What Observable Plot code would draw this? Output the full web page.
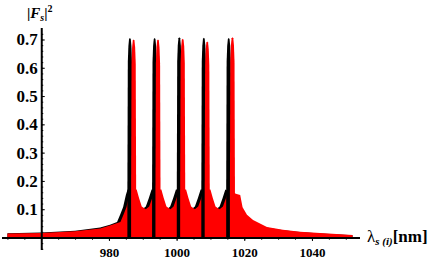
<!DOCTYPE html>
<html><head><meta charset="utf-8">
<script src="https://cdn.jsdelivr.net/npm/d3@7"></script>
<script src="https://cdn.jsdelivr.net/npm/@observablehq/plot@0.6"></script>
<style>body{margin:0;background:#fff} #chart svg{display:block}</style>
</head><body><div id="chart"></div>
<script>
// ---- data ----
const blackPeakCenters = [986.2, 993.5, 1000.8, 1008.05, 1015.4];
const blackPeakHeights = [0.705, 0.705, 0.708, 0.706, 0.705];
const redPeakCenters   = [987.3, 994.5, 1001.8, 1009.05, 1016.5];
const redPeakHeights   = [0.700, 0.700, 0.703, 0.693, 0.708];
const peakOffsets = [-0.75, -0.62, -0.45, -0.25, 0, 0.25, 0.45, 0.62, 0.75];
const peakShape   = [0.22, 0.88, 0.96, 0.995, 1, 0.995, 0.96, 0.88, 0.22];

const blackEnvLambda = [950, 960, 970, 977.4, 980.3, 982.4, 983.3, 984.2, 985.0, 985.5, 987.2, 987.9, 988.7, 989.9, 990.9, 991.8, 992.6, 994.5, 995.2, 996.0, 997.2, 998.1, 999.0, 999.8, 1001.8, 1002.5, 1003.3, 1004.4, 1005.4, 1006.3, 1007.1, 1009.0, 1009.7, 1010.5, 1011.7, 1012.7, 1013.6, 1014.4, 1016.5, 1017.8, 1018.5, 1019.8, 1021.6, 1025.7, 1030.4, 1035.5, 1041.4, 1052];
const blackEnvValue  = [0.015, 0.018, 0.024, 0.035, 0.045, 0.055, 0.08, 0.108, 0.15, 0.17, 0.17, 0.14, 0.11, 0.10, 0.11, 0.14, 0.17, 0.17, 0.14, 0.11, 0.10, 0.11, 0.14, 0.17, 0.17, 0.14, 0.11, 0.10, 0.11, 0.14, 0.17, 0.17, 0.14, 0.11, 0.10, 0.11, 0.14, 0.17, 0.155, 0.15, 0.107, 0.08, 0.062, 0.037, 0.027, 0.02, 0.015, 0.008];

const redEnvLambda = [950, 960, 970, 977.4, 980.3, 983.4, 984.3, 985.2, 986.0, 986.5, 988.2, 988.9, 989.7, 990.9, 991.9, 992.8, 993.6, 995.5, 996.2, 997.0, 998.2, 999.1, 1000.0, 1000.8, 1002.8, 1003.5, 1004.3, 1005.4, 1006.4, 1007.3, 1008.1, 1010.0, 1010.7, 1011.5, 1012.7, 1013.7, 1014.6, 1015.4, 1017.5, 1018.8, 1019.5, 1020.8, 1022.6, 1026.7, 1031.4, 1036.5, 1042.4, 1052];
const redEnvValue  = [0.014, 0.016, 0.022, 0.032, 0.042, 0.055, 0.08, 0.108, 0.15, 0.17, 0.17, 0.14, 0.11, 0.10, 0.11, 0.14, 0.17, 0.17, 0.14, 0.11, 0.10, 0.11, 0.14, 0.17, 0.17, 0.14, 0.11, 0.10, 0.11, 0.14, 0.17, 0.17, 0.14, 0.11, 0.10, 0.11, 0.14, 0.17, 0.155, 0.15, 0.107, 0.08, 0.062, 0.037, 0.027, 0.02, 0.016, 0.009];

const yTicks = [0.1, 0.2, 0.3, 0.4, 0.5, 0.6, 0.7];
const yTickLabels = ["0.1", "0.2", "0.3", "0.4", "0.5", "0.6", "0.7"];
const xTicks = [980, 1000, 1020, 1040];
const xTickLabels = ["980", "1000", "1020", "1040"];

// ---- layout ----
const W = 436, H = 262;
const mL = 2, mR = 76, mT = 28, mB = 12;
const xDomain = [948.4, 1054.2];
const yDomain = [-0.0442, 0.7406];
const axisX0 = 960;
const pxPerX = (W - mL - mR) / (xDomain[1] - xDomain[0]);
const pxPerY = (H - mT - mB) / (yDomain[1] - yDomain[0]);

const env = (ls, vs) => ls.map((l, i) => ({x: l, y: vs[i]}));
const peaks = (cs, hs) => cs.flatMap((c, i) => peakOffsets.map((o, j) => ({x: c + o, y: hs[i] * peakShape[j], k: i})));

const yMinor = d3.range(-0.04, 0.735, 0.02);
const xMinor = d3.range(950, 1051, 5);
const serif = "'Liberation Serif', 'Times New Roman', serif";

const plot = Plot.plot({
  width: W, height: H,
  marginLeft: mL, marginRight: mR, marginTop: mT, marginBottom: mB,
  style: {fontFamily: serif},
  x: {domain: xDomain, axis: null},
  y: {domain: yDomain, axis: null},
  marks: [
    Plot.areaY(env(blackEnvLambda, blackEnvValue), {x: "x", y: "y", fill: "black"}),
    Plot.areaY(env(redEnvLambda, redEnvValue), {x: "x", y: "y", fill: "#ff0000"}),
    Plot.areaY(peaks(blackPeakCenters, blackPeakHeights), {x: "x", y: "y", z: "k", fill: "black"}),
    Plot.areaY(peaks(redPeakCenters, redPeakHeights), {x: "x", y: "y", z: "k", fill: "#ff0000"}),
    // axes
    Plot.ruleY([0], {x1: xDomain[0], x2: xDomain[1], stroke: "black", strokeWidth: 2}),
    Plot.ruleX([axisX0], {y1: yDomain[0], y2: yDomain[1], stroke: "black", strokeWidth: 2}),
    Plot.ruleY(yMinor, {y: d => d, x1: axisX0, x2: axisX0 + 2 / pxPerX, stroke: "black", strokeWidth: 1}),
    Plot.ruleY(yTicks, {y: d => d, x1: axisX0, x2: axisX0 + 3.5 / pxPerX, stroke: "black", strokeWidth: 1}),
    Plot.ruleX(xMinor, {x: d => d, y1: 0, y2: -2.2 / pxPerY, stroke: "black", strokeWidth: 1}),
    Plot.ruleX(xTicks, {x: d => d, y1: 0, y2: -3.5 / pxPerY, stroke: "black", strokeWidth: 1}),
    Plot.text(yTicks, {x: axisX0, y: d => d, text: (d, i) => yTickLabels[i], textAnchor: "end", dx: -4, fontSize: 17, fontWeight: "bold", fontFamily: serif, fill: "black"}),
    Plot.text(xTicks, {x: d => d, y: 0, dy: 15, text: (d, i) => xTickLabels[i], fontSize: 13, fontWeight: "bold", fontFamily: serif, fill: "black"})
  ]
});
document.getElementById("chart").appendChild(plot);

// axis titles with sub/superscripts
const svg = d3.select(plot);
const t1 = svg.append("text").attr("x", 27).attr("y", 18).attr("text-anchor", "start")
  .attr("font-family", serif).attr("font-size", 15).attr("font-weight", "bold").attr("fill", "black");
t1.append("tspan").text("|");
t1.append("tspan").attr("font-style", "italic").text("F");
t1.append("tspan").attr("font-style", "italic").attr("font-size", 10).attr("dy", 3).text("s");
t1.append("tspan").attr("dy", -3).text("|");
t1.append("tspan").attr("font-size", 10).attr("dy", -6).text("2");

const t2 = svg.append("text").attr("x", 367).attr("y", 242).attr("text-anchor", "start")
  .attr("font-family", serif).attr("font-size", 17).attr("font-weight", "bold").attr("fill", "black");
t2.append("tspan").attr("font-weight", "normal").text("λ");
t2.append("tspan").attr("font-style", "italic").attr("font-size", 11).attr("dy", 3).text("s (i)");
t2.append("tspan").attr("dy", -3).text("[nm]");
</script>
</body></html>
